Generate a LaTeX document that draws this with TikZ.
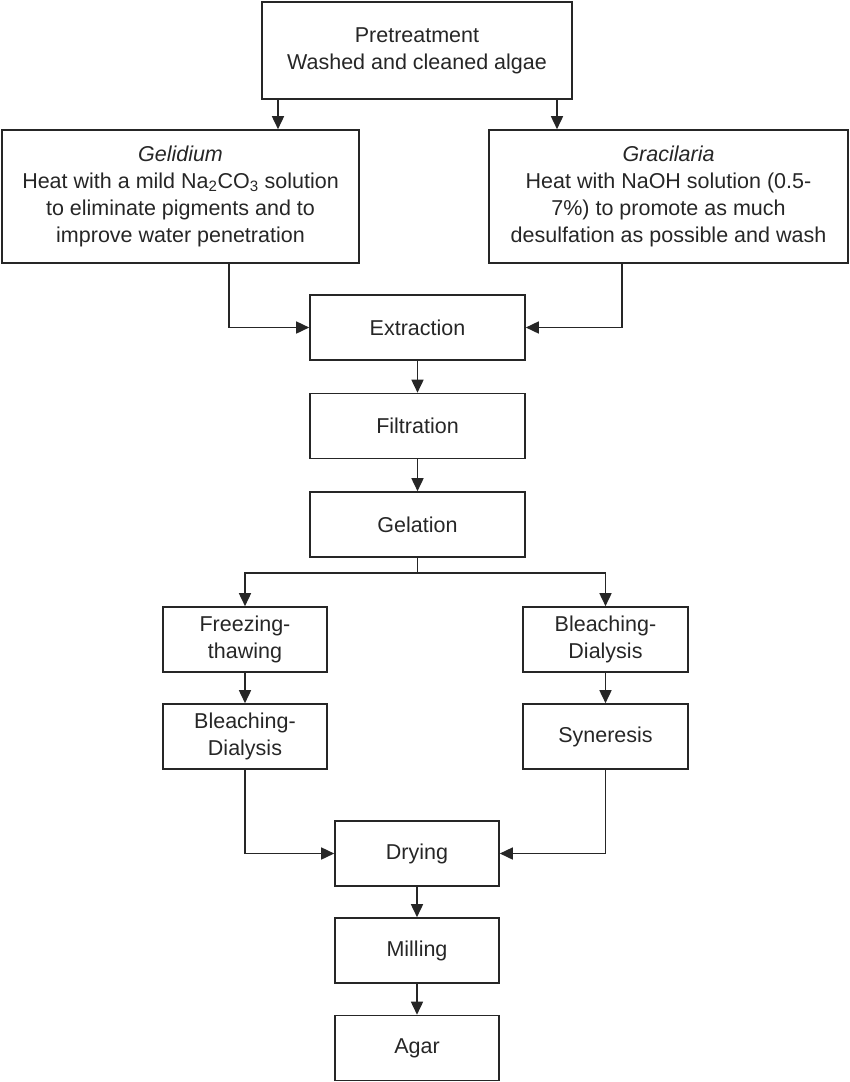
\documentclass[tikz,border=0pt]{standalone}
\usepackage{fontspec}
\setmainfont{Liberation Sans}
\usetikzlibrary{arrows.meta}
\definecolor{ink}{HTML}{262626}
\begin{document}
\begin{tikzpicture}[x=1pt,y=-1pt,
  box/.style={draw=ink,line width=1.6pt,rectangle,align=center,inner sep=0pt,
    font=\fontsize{21.5}{27}\selectfont,text=ink},
  conn/.style={draw=ink,line width=1.6pt,-{Triangle[length=13pt,width=12pt]}}]
\useasboundingbox (0,0) rectangle (850,1082);
\node[box,minimum width=310pt,minimum height=97pt] (pre) at (417,50.5) {Pretreatment\\Washed and cleaned algae};
\node[box,minimum width=357pt,minimum height=133pt] (gel) at (180.5,196.5) {\textit{Gelidium}\\Heat with a mild Na\textsubscript{2}CO\textsubscript{3} solution\\to eliminate pigments and to\\improve water penetration};
\node[box,minimum width=359pt,minimum height=133pt] (gra) at (668.5,196.5) {\textit{Gracilaria}\\Heat with NaOH solution (0.5-\\7\%) to promote as much\\desulfation as possible and wash};
\node[box,minimum width=215pt,minimum height=65pt] (ext) at (417.5,327.5) {Extraction};
\node[box,minimum width=215pt,minimum height=65pt] (fil) at (417.5,426) {Filtration};
\node[box,minimum width=215pt,minimum height=65pt] (gtn) at (417.5,524.5) {Gelation};
\node[box,minimum width=164pt,minimum height=65pt] (frz) at (245,639.5) {Freezing-\\thawing};
\node[box,minimum width=165pt,minimum height=65pt] (blr) at (605.5,639.5) {Bleaching-\\Dialysis};
\node[box,minimum width=164pt,minimum height=65pt] (bll) at (245,736.5) {Bleaching-\\Dialysis};
\node[box,minimum width=165pt,minimum height=65pt] (syn) at (605.5,736.5) {Syneresis};
\node[box,minimum width=164pt,minimum height=65pt] (dry) at (417,853.5) {Drying};
\node[box,minimum width=164pt,minimum height=65pt] (mil) at (417,950.5) {Milling};
\node[box,minimum width=164pt,minimum height=65pt] (agr) at (417,1048) {Agar};
\coordinate (br) at (417.5,573);
% connectors
\draw[conn] (pre.south -| 278,0) -- (gel.north -| 278,0);
\draw[conn] (pre.south -| 557,0) -- (gra.north -| 557,0);
\draw[conn] (gel.south -| 229,0) |- (ext.west);
\draw[conn] (gra.south -| 622,0) |- (ext.east);
\draw[conn] (ext) -- (fil);
\draw[conn] (fil) -- (gtn);
\draw[draw=ink,line width=1.6pt] (gtn.south) -- (br);
\draw[conn] (br) -| (frz.north);
\draw[conn] (br) -| (blr.north);
\draw[conn] (frz) -- (bll);
\draw[conn] (blr) -- (syn);
\draw[conn] (bll.south) |- (dry.west);
\draw[conn] (syn.south) |- (dry.east);
\draw[conn] (dry) -- (mil);
\draw[conn] (mil) -- (agr);
\end{tikzpicture}
\end{document}
